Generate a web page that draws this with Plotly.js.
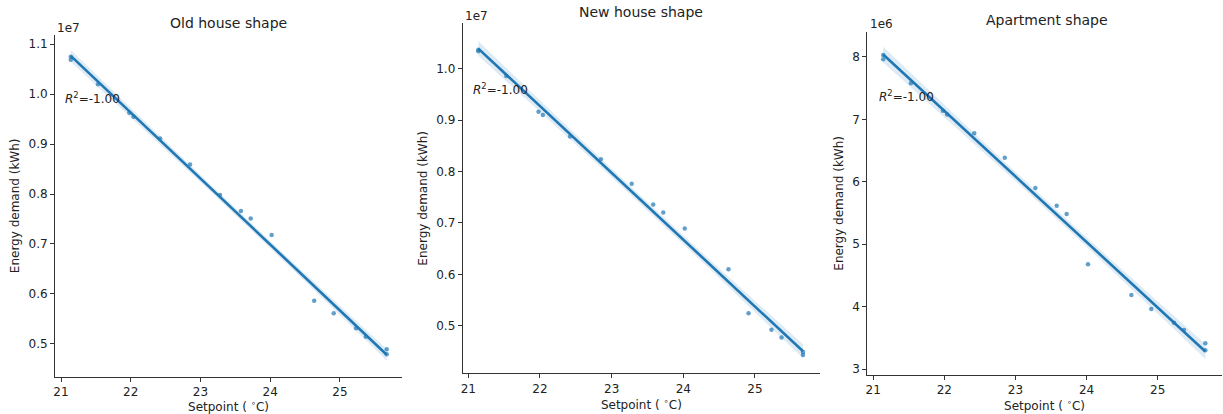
<!DOCTYPE html>
<html>
<head>
<meta charset="utf-8">
<script src="https://cdn.plot.ly/plotly-3.0.1.min.js"></script>
<style>html,body{margin:0;padding:0;background:#fff;}#chart{width:1223px;height:414px;}</style>
</head>
<body>
<div id="chart"></div>
<script>
// ---- data ----
const setpoint = [21.14, 21.14, 21.53, 21.98, 22.04, 22.42, 22.85, 23.28, 23.58, 23.72, 24.02, 24.63, 24.91, 25.23, 25.37, 25.67, 25.67];
// Energy demand, Old house shape (units of 1e7 kWh)
const oldHouseDemand = [1.075, 1.069, 1.020, 0.963, 0.955, 0.911, 0.859, 0.798, 0.766, 0.751, 0.718, 0.586, 0.561, 0.531, 0.514, 0.489, 0.479];
// Energy demand, New house shape (units of 1e7 kWh)
const newHouseDemand = [1.037, 1.034, 0.986, 0.916, 0.910, 0.868, 0.824, 0.776, 0.736, 0.720, 0.689, 0.610, 0.524, 0.492, 0.477, 0.449, 0.443];
// Energy demand, Apartment shape (units of 1e6 kWh)
const apartmentDemand = [7.963, 8.030, 7.578, 7.140, 7.080, 6.777, 6.387, 5.901, 5.617, 5.484, 4.677, 4.186, 3.962, 3.740, 3.625, 3.411, 3.300];

const panelTitles = ["Old house shape", "New house shape", "Apartment shape"];
const offsetLabels = ["1e7", "1e7", "1e6"];
const xTicks = [21, 22, 23, 24, 25];
const yTicksOld = [0.5, 0.6, 0.7, 0.8, 0.9, 1.0, 1.1];
const yTicksNew = [0.5, 0.6, 0.7, 0.8, 0.9, 1.0];
const yTicksApt = [3, 4, 5, 6, 7, 8];
const xTitle = "Setpoint ( <sup>∘</sup>C)";
const yTitle = "Energy demand (kWh)";
const r2Label = "<i>R</i><sup>2</sup>=-1.00";

// ---- layout helpers (pixel -> paper) ----
const W = 1223, H = 414;
const px = v => v / W;
const py = v => 1 - v / H;

const BLUE = '#1f77b4';
const FONT = 'DejaVu Sans, Liberation Sans, sans-serif';

function regression(x, y) {
  const n = x.length;
  const mx = x.reduce((a, b) => a + b, 0) / n;
  const my = y.reduce((a, b) => a + b, 0) / n;
  let sxx = 0, sxy = 0;
  for (let i = 0; i < n; i++) { sxx += (x[i] - mx) ** 2; sxy += (x[i] - mx) * (y[i] - my); }
  const b = sxy / sxx, a = my - b * mx;
  let sse = 0;
  for (let i = 0; i < n; i++) sse += (y[i] - a - b * x[i]) ** 2;
  const s = Math.sqrt(sse / (n - 2));
  const t = 2.13;
  const xmin = Math.min(...x), xmax = Math.max(...x);
  const gx = [], gy = [], lo = [], hi = [];
  for (let k = 0; k <= 100; k++) {
    const xv = xmin + (xmax - xmin) * k / 100;
    const yv = a + b * xv;
    const se = s * Math.sqrt(1 / n + (xv - mx) ** 2 / sxx);
    gx.push(xv); gy.push(yv); lo.push(yv - t * se); hi.push(yv + t * se);
  }
  return { gx, gy, lo, hi };
}

const panels = [
  { y: oldHouseDemand, ticks: yTicksOld, fmt: '.1f', xd: [55, 402], yd: [35, 376.7], yr: [0.434, 1.1186], xr: [20.914, 25.889] },
  { y: newHouseDemand, ticks: yTicksNew, fmt: '.1f', xd: [462.7, 820], yd: [23.3, 373.3], yr: [0.4074, 1.0883], xr: [20.922, 25.907] },
  { y: apartmentDemand, ticks: yTicksApt, fmt: 'd', xd: [867.3, 1221.7], yd: [31.7, 375], yr: [2.904, 8.405], xr: [20.917, 25.9] }
];

const traces = [];
const layout = {
  width: W, height: H,
  margin: { l: 0, r: 0, t: 0, b: 0 },
  paper_bgcolor: '#fff', plot_bgcolor: '#fff',
  showlegend: false,
  font: { family: FONT, size: 12, color: '#222' },
  annotations: []
};

const titlePos = [[228, 23], [641, 12], [1047, 20]];
const offsetPos = [[55, 28], [463.3, 16], [868, 24]];
const r2Pos = [[63, 98], [471, 89], [876.7, 96]];

panels.forEach((p, i) => {
  const sfx = i === 0 ? '' : String(i + 1);
  const xa = 'x' + sfx, ya = 'y' + sfx;
  const reg = regression(setpoint, p.y);
  traces.push({ x: setpoint, y: p.y, xaxis: xa, yaxis: ya, type: 'scatter', mode: 'markers',
    marker: { size: 4.5, color: BLUE, opacity: 0.7 }, hoverinfo: 'x+y' });
  traces.push({ x: reg.gx, y: reg.lo, xaxis: xa, yaxis: ya, type: 'scatter', mode: 'lines',
    line: { width: 0, color: 'rgba(31,119,180,0)' }, hoverinfo: 'skip' });
  traces.push({ x: reg.gx, y: reg.hi, xaxis: xa, yaxis: ya, type: 'scatter', mode: 'lines',
    fill: 'tonexty', fillcolor: 'rgba(31,119,180,0.15)', line: { width: 0, color: 'rgba(31,119,180,0)' }, hoverinfo: 'skip' });
  traces.push({ x: reg.gx, y: reg.gy, xaxis: xa, yaxis: ya, type: 'scatter', mode: 'lines',
    line: { width: 2.6, color: BLUE }, hoverinfo: 'skip' });

  const axisCommon = {
    showline: true, linecolor: '#333', linewidth: 1, mirror: false,
    ticks: 'outside', ticklen: 4, tickwidth: 1, tickcolor: '#333',
    showgrid: false, zeroline: false, automargin: false,
    tickfont: { family: FONT, size: 12, color: '#222' }
  };
  layout['xaxis' + sfx] = Object.assign({}, axisCommon, {
    domain: [px(p.xd[0]), px(p.xd[1])], range: p.xr, anchor: ya,
    tickvals: xTicks, ticktext: xTicks.map(String),
    title: { text: xTitle, font: { family: FONT, size: 12, color: '#222' }, standoff: 3 }
  });
  layout['yaxis' + sfx] = Object.assign({}, axisCommon, {
    domain: [py(p.yd[1]), py(p.yd[0])], range: p.yr, anchor: xa,
    tickvals: p.ticks, tickformat: p.fmt,
    title: { text: yTitle, font: { family: FONT, size: 12, color: '#222' }, standoff: 6 }
  });

  layout.annotations.push({ xref: 'paper', yref: 'paper', x: px(titlePos[i][0]), y: py(titlePos[i][1]),
    xanchor: 'center', yanchor: 'middle', showarrow: false, text: panelTitles[i],
    font: { family: FONT, size: 14, color: '#222' } });
  layout.annotations.push({ xref: 'paper', yref: 'paper', x: px(offsetPos[i][0]), y: py(offsetPos[i][1]),
    xanchor: 'left', yanchor: 'middle', showarrow: false, text: offsetLabels[i],
    font: { family: FONT, size: 12, color: '#222' } });
  layout.annotations.push({ xref: 'paper', yref: 'paper', x: px(r2Pos[i][0]), y: py(r2Pos[i][1]),
    xanchor: 'left', yanchor: 'middle', showarrow: false, text: r2Label,
    font: { family: FONT, size: 12, color: '#222' } });
});

Plotly.newPlot('chart', traces, layout, { staticPlot: true, displayModeBar: false });
</script>
</body>
</html>
